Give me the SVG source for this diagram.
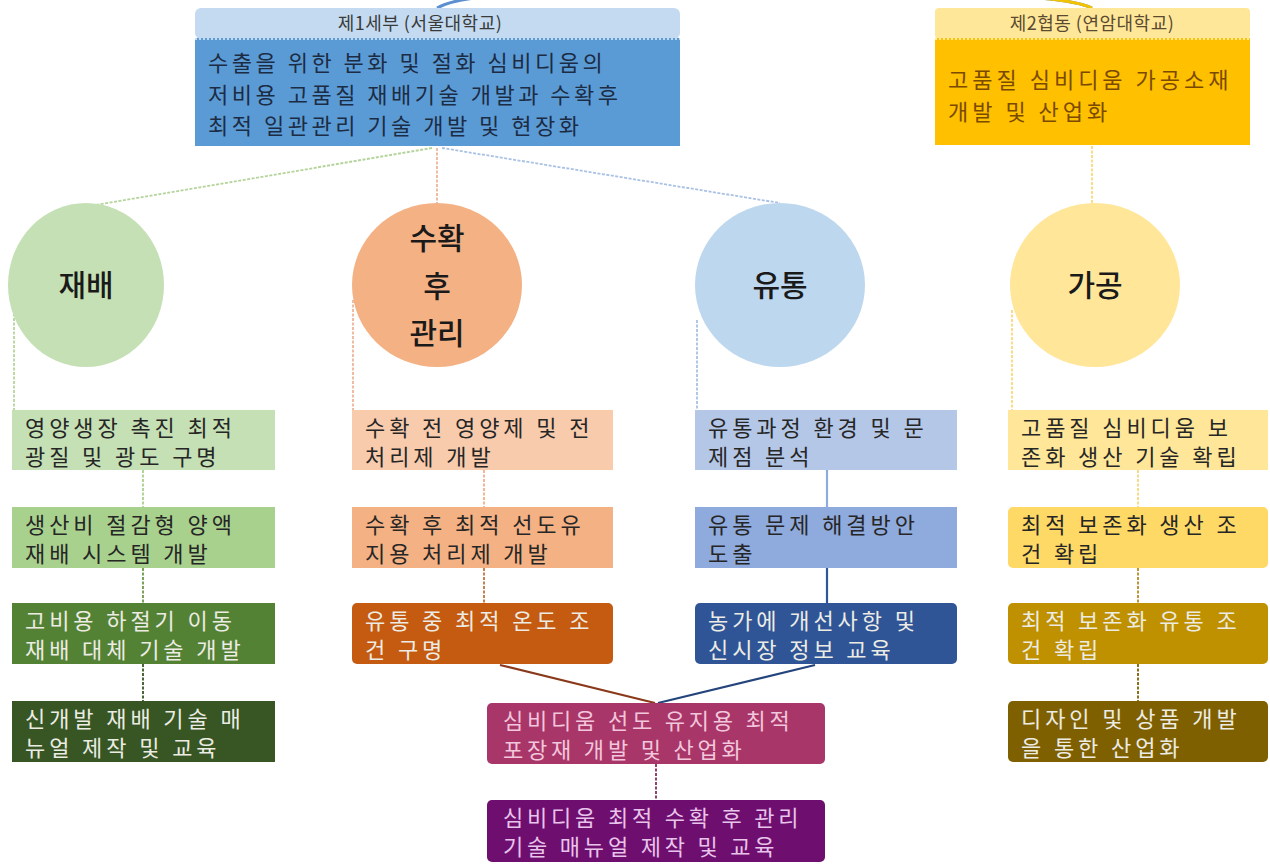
<svg xmlns="http://www.w3.org/2000/svg" width="1270" height="866" viewBox="0 0 1270 866">
<style>
text{font-family:"Noto Sans CJK KR","Noto Sans CJK SC",sans-serif;}
.bx{font-size:22px;letter-spacing:3.9px;}
.bw{font-size:22px;letter-spacing:3.8px;}
.dk{fill:#262626}
.lt{fill:#ecece4}
.cir{font-size:30px;fill:#1a1a1a;text-anchor:middle;font-weight:500}
.c{fill:none;stroke-width:1.8;stroke-dasharray:3 1.5}
.s{fill:none;stroke-width:2.2}
</style>
<rect width="1270" height="866" fill="#ffffff"/>

<g id="connectors">
  <path d="M437,8 Q455,-2 500,-4 L1000,-4 Q1070,-2 1092,8" fill="none" stroke="#5b8fd0" stroke-width="3"/>
  <path d="M760,-4 L1000,-4 Q1070,-2 1092,8" fill="none" stroke="#f2c200" stroke-width="3"/>
  <line x1="432" y1="148" x2="95" y2="205" class="c" stroke="#b5d49b"/>
  <line x1="437" y1="148" x2="437" y2="203" class="c" stroke="#eeb59a"/>
  <line x1="442" y1="148" x2="780" y2="203" class="c" stroke="#a9c1e3"/>
  <line x1="1092" y1="146" x2="1092" y2="203" class="c" stroke="#fbd97a"/>
  <path d="M14,300 L14,410" class="c" stroke="#b5d49b"/>
  <path d="M353,300 L353,410" class="c" stroke="#eeb59a"/>
  <path d="M697,320 L697,410" class="c" stroke="#a9c1e3"/>
  <path d="M1012,310 L1012,410" class="c" stroke="#fbd97a"/>
  <line x1="143" y1="470" x2="143" y2="507" class="c" stroke="#a9d18e"/>
  <line x1="143" y1="568" x2="143" y2="603" class="c" stroke="#6a9a48"/>
  <line x1="143" y1="664" x2="143" y2="701" class="c" stroke="#375623"/>
  <line x1="484" y1="470" x2="484" y2="507" class="c" stroke="#f2b08a"/>
  <line x1="484" y1="568" x2="484" y2="603" class="c" stroke="#c8703a"/>
  <line x1="827" y1="470" x2="827" y2="507" class="s" stroke="#8faadc"/>
  <line x1="827" y1="568" x2="827" y2="603" class="s" stroke="#2f5597"/>
  <line x1="1138" y1="470" x2="1138" y2="507" class="c" stroke="#f5d97a"/>
  <line x1="1138" y1="568" x2="1138" y2="603" class="c" stroke="#b88a20"/>
  <line x1="1138" y1="664" x2="1138" y2="701" class="c" stroke="#7f6000"/>
  <line x1="500" y1="665" x2="655" y2="703" class="s" stroke="#8a3a1a"/>
  <line x1="815" y1="665" x2="658" y2="703" class="s" stroke="#24447c"/>
  <line x1="656" y1="764" x2="656" y2="801" class="c" stroke="#8a2a60"/>
</g>

<g id="top1">
  <rect x="195" y="8" width="485" height="31" rx="6" fill="#c3daf0"/>
  <rect x="195" y="38" width="485" height="108" fill="#5b9bd5"/>
  <line x1="195" y1="39" x2="680" y2="39" stroke="#e6f0fa" stroke-width="1.5" stroke-dasharray="2 2"/>
  <text x="420" y="30" font-size="18" fill="#3a3a3a" text-anchor="middle" letter-spacing="0.5">제1세부 (서울대학교)</text>
  <text x="208" y="71" font-size="22" fill="#1c2c44" letter-spacing="3.5">수출을 위한 분화 및 절화 심비디움의</text>
  <text x="208" y="103" font-size="22" fill="#1c2c44" letter-spacing="3.5">저비용 고품질 재배기술 개발과 수확후</text>
  <text x="208" y="134" font-size="22" fill="#1c2c44" letter-spacing="3.5">최적 일관관리 기술 개발 및 현장화</text>
</g>

<g id="top2">
  <rect x="935" y="8" width="315" height="31" rx="4" fill="#ffe79a"/>
  <rect x="935" y="38" width="315" height="107" fill="#ffc000"/>
  <line x1="935" y1="39" x2="1250" y2="39" stroke="#fff6d0" stroke-width="1.5" stroke-dasharray="2 2"/>
  <text x="1092" y="30" font-size="18" fill="#5a4a30" text-anchor="middle" letter-spacing="0.5">제2협동 (연암대학교)</text>
  <text x="948" y="88" font-size="22" fill="#7a4a00" letter-spacing="4">고품질 심비디움 가공소재</text>
  <text x="948" y="120" font-size="22" fill="#7a4a00" letter-spacing="4">개발 및 산업화</text>
</g>

<g id="circle-jaebae">
  <ellipse cx="86" cy="285" rx="78" ry="82" fill="#c5e0b4"/>
  <text x="86" y="296" class="cir">재배</text>
</g>
<g id="circle-suhwak">
  <ellipse cx="437" cy="285" rx="85" ry="82" fill="#f4b183"/>
  <text x="437" y="249" class="cir">수확</text>
  <text x="437" y="297" class="cir">후</text>
  <text x="437" y="344" class="cir">관리</text>
</g>
<g id="circle-yutong">
  <ellipse cx="780" cy="285" rx="85" ry="82" fill="#bdd7ee"/>
  <text x="780" y="296" class="cir">유통</text>
</g>
<g id="circle-gagong">
  <ellipse cx="1095" cy="285" rx="85" ry="82" fill="#ffe699"/>
  <text x="1095" y="296" class="cir">가공</text>
</g>

<g id="g1-1"><rect x="12" y="410" width="263" height="60" fill="#c5e0b4"/>
  <text x="25" y="436" class="bx dk">영양생장 촉진 최적</text><text x="25" y="465" class="bx dk">광질 및 광도 구명</text></g>
<g id="g1-2"><rect x="12" y="507" width="263" height="61" fill="#a9d18e"/>
  <text x="25" y="533" class="bx dk">생산비 절감형 양액</text><text x="25" y="562" class="bx dk">재배 시스템 개발</text></g>
<g id="g1-3"><rect x="12" y="603" width="263" height="61" fill="#548235"/>
  <text x="25" y="629" class="bx lt">고비용 하절기 이동</text><text x="25" y="658" class="bx lt">재배 대체 기술 개발</text></g>
<g id="g1-4"><rect x="12" y="701" width="263" height="61" fill="#375623"/>
  <text x="25" y="727" class="bx lt">신개발 재배 기술 매</text><text x="25" y="756" class="bx lt">뉴얼 제작 및 교육</text></g>

<g id="g2-1"><rect x="352" y="410" width="261" height="60" fill="#f8cbad"/>
  <text x="365" y="436" class="bx dk">수확 전 영양제 및 전</text><text x="365" y="465" class="bx dk">처리제 개발</text></g>
<g id="g2-2"><rect x="352" y="507" width="261" height="61" fill="#f4b183"/>
  <text x="365" y="533" class="bx dk">수확 후 최적 선도유</text><text x="365" y="562" class="bx dk">지용 처리제 개발</text></g>
<g id="g2-3"><rect x="352" y="603" width="261" height="61" rx="5" fill="#c55a11"/>
  <text x="365" y="629" class="bx lt">유통 중 최적 온도 조</text><text x="365" y="658" class="bx lt">건 구명</text></g>

<g id="g3-1"><rect x="695" y="410" width="262" height="60" fill="#b4c7e7"/>
  <text x="708" y="436" class="bx dk">유통과정 환경 및 문</text><text x="708" y="465" class="bx dk">제점 분석</text></g>
<g id="g3-2"><rect x="695" y="507" width="262" height="61" fill="#8faadc"/>
  <text x="708" y="533" class="bx dk">유통 문제 해결방안</text><text x="708" y="562" class="bx dk">도출</text></g>
<g id="g3-3"><rect x="695" y="603" width="262" height="61" rx="5" fill="#2f5597"/>
  <text x="708" y="629" class="bx lt">농가에 개선사항 및</text><text x="708" y="658" class="bx lt">신시장 정보 교육</text></g>

<g id="g4-1"><rect x="1008" y="410" width="260" height="60" fill="#ffe699"/>
  <text x="1021" y="436" class="bx dk">고품질 심비디움 보</text><text x="1021" y="465" class="bx dk">존화 생산 기술 확립</text></g>
<g id="g4-2"><rect x="1008" y="507" width="260" height="61" rx="5" fill="#ffd966"/>
  <text x="1021" y="533" class="bx dk">최적 보존화 생산 조</text><text x="1021" y="562" class="bx dk">건 확립</text></g>
<g id="g4-3"><rect x="1008" y="603" width="260" height="61" rx="5" fill="#bf9000"/>
  <text x="1021" y="629" class="bx lt">최적 보존화 유통 조</text><text x="1021" y="658" class="bx lt">건 확립</text></g>
<g id="g4-4"><rect x="1008" y="701" width="260" height="61" rx="5" fill="#7f6000"/>
  <text x="1021" y="727" class="bx lt">디자인 및 상품 개발</text><text x="1021" y="756" class="bx lt">을 통한 산업화</text></g>

<g id="b-1"><rect x="487" y="703" width="338" height="61" rx="5" fill="#a93668"/>
  <text x="503" y="729" class="bw" fill="#f2c6dc">심비디움 선도 유지용 최적</text><text x="503" y="758" class="bw" fill="#f2c6dc">포장재 개발 및 산업화</text></g>
<g id="b-2"><rect x="487" y="800" width="338" height="62" rx="5" fill="#6e0f70"/>
  <text x="503" y="826" class="bw" fill="#e8c4ea">심비디움 최적 수확 후 관리</text><text x="503" y="855" class="bw" fill="#e8c4ea">기술 매뉴얼 제작 및 교육</text></g>
</svg>
